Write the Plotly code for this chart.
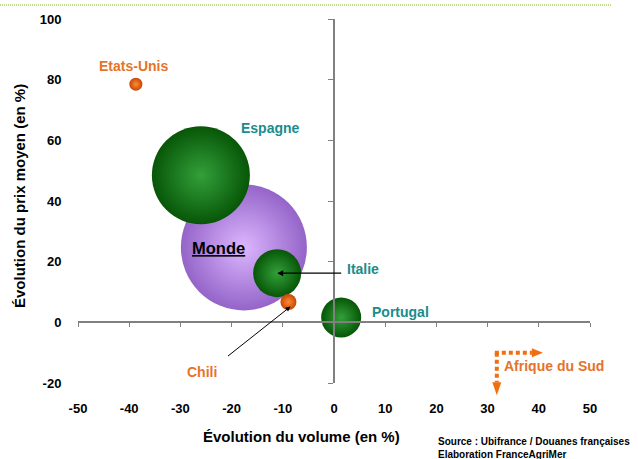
import plotly.graph_objects as go

# ---- data ----
pays = ["Monde", "Espagne", "Italie", "Portugal", "Etats-Unis", "Chili"]
volume = [-17.6, -26.0, -11.1, 1.4, -38.7, -8.9]     # Évolution du volume (%)
prix = [24.7, 48.5, 16.2, 1.6, 78.5, 6.7]             # Évolution du prix moyen (%)
taille = [126, 98, 48, 40, 13, 16]                    # bubble diameter
groupe = ["monde", "ue", "ue", "ue", "nouveau", "nouveau"]

x_ticks = [-50, -40, -30, -20, -10, 0, 10, 20, 30, 40, 50]
x_ticktext = ["-50", "-40", "-30", "-20", "-10", "0", "10", "20", "30", "40", "50"]
y_ticks = [-20, 0, 20, 40, 60, 80, 100]
y_ticktext = ["-20", "0", "20", "40", "60", "80", "100"]

# Afrique du Sud: off-scale (volume > +30, prix < -20), shown with dotted arrows
afs_corner = [31.8, -10.0]     # corner of the two arrows
afs_tip_x = 40.8               # tip of the right arrow
afs_tip_y = -24.0              # tip of the down arrow

X_RANGE = [-50, 50]
Y_RANGE = [-20, 100]

FONT = "Liberation Sans, Arial, sans-serif"
styles = {
    "monde": dict(color="#9464c8", grad="#dcb6ff"),
    "ue": dict(color="#075607", grad="#33a03a"),
    "nouveau": dict(color="#c44800", grad="#ff8a3a"),
}

fig = go.Figure()
for g in ["monde", "ue", "nouveau"]:
    idx = [i for i, gg in enumerate(groupe) if gg == g]
    fig.add_trace(go.Scatter(
        x=[volume[i] for i in idx], y=[prix[i] for i in idx],
        mode="markers", hoverinfo="text", text=[pays[i] for i in idx],
        marker=dict(size=[taille[i] for i in idx], sizemode="diameter",
                    color=styles[g]["color"], opacity=1,
                    gradient=dict(type="radial", color=styles[g]["grad"]),
                    line=dict(width=0)),
        showlegend=False, cliponaxis=False))

# dummy trace for zero-crossing axes
fig.add_trace(go.Scatter(x=[None], y=[None], xaxis="x2", yaxis="y2", showlegend=False))

# helpers: data -> paper coordinates
def px(x):
    return (x - X_RANGE[0]) / (X_RANGE[1] - X_RANGE[0])
def py(y):
    return (y - Y_RANGE[0]) / (Y_RANGE[1] - Y_RANGE[0])

PLOT_W, PLOT_H = 512, 364
orange = "#f07010"
cx, cy = px(afs_corner[0]), py(afs_corner[1])
tx, ty = px(afs_tip_x), py(afs_tip_y)
head_l_x, head_w_x = 11 / PLOT_W, 4.5 / PLOT_H
head_l_y, head_w_y = 13 / PLOT_H, 4.5 / PLOT_W
fig.add_shape(type="line", xref="paper", yref="paper", x0=cx - 2 / PLOT_W, y0=cy,
              x1=tx - head_l_x, y1=cy, line=dict(color=orange, width=4, dash="4px,3px"))
fig.add_shape(type="line", xref="paper", yref="paper", x0=cx, y0=cy,
              x1=cx, y1=ty + head_l_y, line=dict(color=orange, width=4, dash="4px,3px"))
fig.add_shape(type="path", xref="paper", yref="paper",
              path=f"M {tx - head_l_x} {cy + head_w_x} L {tx} {cy} L {tx - head_l_x} {cy - head_w_x} Z",
              fillcolor=orange, line=dict(width=0))
fig.add_shape(type="path", xref="paper", yref="paper",
              path=f"M {cx - head_w_y} {ty + head_l_y} L {cx} {ty} L {cx + head_w_y} {ty + head_l_y} Z",
              fillcolor=orange, line=dict(width=0))

teal = "#1a8c8c"
lab_orange = "#e5732a"
def lab(text, x, y, color, size=14, xanchor="center"):
    fig.add_annotation(x=x, y=y, text=text, showarrow=False, xanchor=xanchor,
                       font=dict(family=FONT, size=size, color=color, weight="bold"))

lab("Etats-Unis", -39.2, 84.5, lab_orange)
lab("Espagne", -12.5, 64, teal)
lab("<u>Monde</u>", -22.5, 24.5, "black", size=16.5)
lab("Italie", 2.2, 17.5, teal, xanchor="left")
lab("Portugal", 7, 3.5, teal, xanchor="left")
lab("Chili", -25.8, -16.5, lab_orange)
lab("Afrique du Sud", 32.8, -14.5, lab_orange, xanchor="left")

# arrows
fig.add_annotation(x=volume[2], y=prix[2], ax=1.7, ay=prix[2], axref="x", ayref="y",
                   xref="x", yref="y", text="", showarrow=True, arrowhead=2,
                   arrowsize=1, arrowwidth=1.2, arrowcolor="black", standoff=0)
fig.add_annotation(x=volume[5] + 0.4, y=prix[5] - 1.5, ax=-21.0, ay=-11.5, axref="x", ayref="y",
                   xref="x", yref="y", text="", showarrow=True, arrowhead=2,
                   arrowsize=1, arrowwidth=1.0, arrowcolor="black", standoff=0)

# green dotted rule at top
fig.add_shape(type="line", xref="paper", yref="paper", x0=-78 / PLOT_W, x1=(612 - 78) / PLOT_W,
              y0=1 + 14 / PLOT_H, y1=1 + 14 / PLOT_H, line=dict(color="#7ab317", width=1, dash="1px,1px"))

# axis titles
title_font = dict(family=FONT, size=15, color="black", weight="bold")
fig.add_annotation(xref="paper", yref="paper", x=(301 - 78) / PLOT_W, y=-(437 - 383) / PLOT_H,
                   text="Évolution du volume (en %)", showarrow=False,
                   xanchor="center", yanchor="middle", font=title_font)
fig.add_annotation(xref="paper", yref="paper", x=(19 - 78) / PLOT_W, y=(383 - 196) / PLOT_H,
                   text="Évolution du prix moyen (en %)", showarrow=False, textangle=-90,
                   xanchor="center", yanchor="middle", font=title_font)

# source
fig.add_annotation(xref="paper", yref="paper", x=(436 - 78) / PLOT_W, y=-(441 - 383) / PLOT_H,
                   text="Source : Ubifrance / Douanes françaises<br>Elaboration FranceAgriMer",
                   showarrow=False, xanchor="left", yanchor="top", align="left", yshift=7,
                   font=dict(family=FONT, size=10, color="black", weight="bold"))

tickfont = dict(family=FONT, size=13, color="black", weight="bold")
fig.update_layout(
    width=638, height=459, margin=dict(l=78, r=48, t=19, b=76),
    paper_bgcolor="white", plot_bgcolor="white",
    xaxis=dict(range=X_RANGE, tickvals=x_ticks, ticktext=x_ticktext, showline=False,
               zeroline=False, showgrid=False, ticks="outside", ticklen=13,
               tickcolor="rgba(0,0,0,0)", tickfont=tickfont),
    yaxis=dict(range=Y_RANGE, tickvals=y_ticks, ticktext=y_ticktext, showline=False,
               zeroline=False, showgrid=False, ticks="outside", ticklen=13,
               tickcolor="rgba(0,0,0,0)", tickfont=tickfont),
    xaxis2=dict(range=X_RANGE, tickvals=x_ticks, overlaying="x", anchor="free",
                position=py(0), showline=True, linecolor="#808080", linewidth=1.5,
                ticks="outside", ticklen=4, tickcolor="#808080", showticklabels=False,
                showgrid=False, zeroline=False),
    yaxis2=dict(range=Y_RANGE, tickvals=y_ticks, overlaying="y", anchor="free",
                position=px(0), showline=True, linecolor="#808080", linewidth=1.5,
                ticks="outside", ticklen=5, tickcolor="#808080", showticklabels=False,
                showgrid=False, zeroline=False),
)

fig.write_html("out.html")
